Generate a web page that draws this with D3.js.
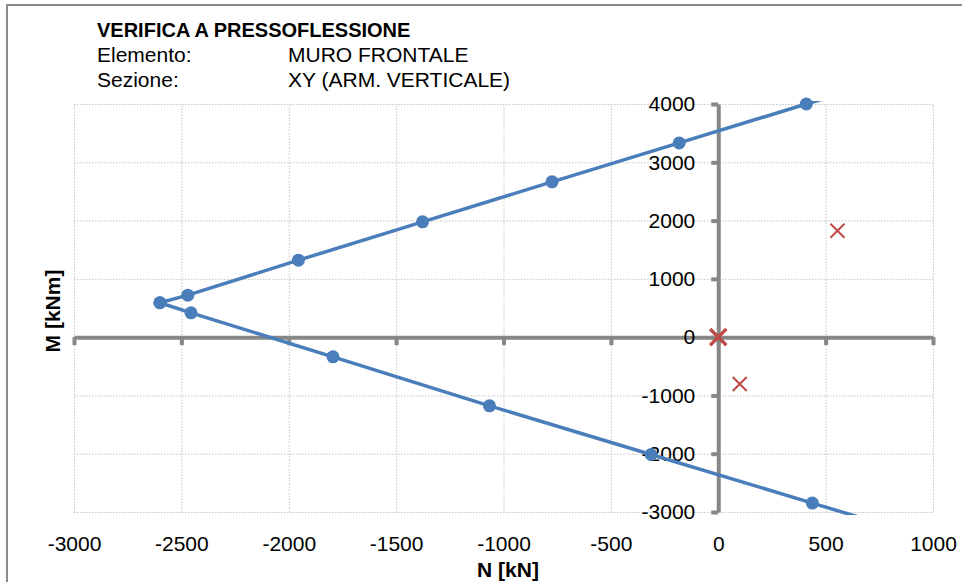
<!DOCTYPE html>
<html>
<head>
<meta charset="utf-8">
<script src="https://cdn.jsdelivr.net/npm/d3@7"></script>
<style>
  body { margin: 0; background: #fff; }
  svg text { font-family: "Liberation Sans", Arial, sans-serif; }
</style>
</head>
<body>
<div id="chart"></div>
<script>
// dominio di interazione N-M (curva blu)
var upperN = [-2600, -2470, -1955, -1377, -774, -182, 410, 1000];
var upperM = [590, 720, 1320, 1978, 2664, 3333, 4000, 4665];
var lowerN = [-2600, -2455, -1794, -1065, -313, 438, 1190];
var lowerM = [590, 417, -338, -1178, -2013, -2847, -3680];

// sollecitazioni di verifica (croci rosse)
var verN = [0, 0, 100, 555];
var verM = [0, 0, -805, 1825];

var xTicks = [-3000, -2500, -2000, -1500, -1000, -500, 0, 500, 1000];
var yTicks = [-3000, -2000, -1000, 0, 1000, 2000, 3000, 4000];

var W = 962, H = 582;
var margin = {top: 104, right: 29, bottom: 70, left: 74},
    width = W - margin.left - margin.right,
    height = H - margin.top - margin.bottom;

// numeri senza separatore e con trattino semplice
var fmt = function(d) { return String(d); };

var svg = d3.select("#chart").append("svg")
    .attr("width", W)
    .attr("height", H);

// bordo esterno
svg.append("rect")
  .attr("x", 7).attr("y", 5)
  .attr("width", 1000).attr("height", 1000)
  .attr("fill", "none")
  .attr("stroke", "#8c8c8c")
  .attr("stroke-width", 2);

var x = d3.scaleLinear().domain([-3000, 1000]).range([margin.left, margin.left + width]);
var y = d3.scaleLinear().domain([-3000, 4000]).range([margin.top + height, margin.top]);

// griglia
svg.append("g")
  .attr("transform", "translate(0," + (margin.top + height) + ")")
  .call(d3.axisBottom(x).tickValues(xTicks).tickSize(-height).tickFormat(""))
  .call(function(g) { g.select(".domain").remove(); })
  .selectAll("line")
    .attr("stroke", "#c4c4c4")
    .attr("stroke-dasharray", "1.5,1.5");
svg.append("g")
  .attr("transform", "translate(" + margin.left + ",0)")
  .call(d3.axisLeft(y).tickValues(yTicks).tickSize(-width).tickFormat(""))
  .call(function(g) { g.select(".domain").remove(); })
  .selectAll("line")
    .attr("stroke", "#c4c4c4")
    .attr("stroke-dasharray", "1.5,1.5");

// asse N (passa per M = 0)
var xAxis = svg.append("g")
  .attr("transform", "translate(0," + y(0) + ")")
  .call(d3.axisBottom(x).tickValues(xTicks).tickSize(8).tickSizeOuter(0).tickFormat(""));
xAxis.select(".domain").attr("stroke", "#878787").attr("stroke-width", 4);
xAxis.selectAll(".tick line").attr("stroke", "#878787").attr("stroke-width", 4);

// etichette N in basso
svg.append("g")
  .attr("transform", "translate(0," + (margin.top + height) + ")")
  .call(d3.axisBottom(x).tickValues(xTicks).tickSize(0).tickPadding(24).tickFormat(fmt))
  .call(function(g) { g.select(".domain").remove(); })
  .selectAll("text")
    .attr("fill", "#000")
    .style("font-size", "21px");

// asse M (passa per N = 0)
var yAxis = svg.append("g")
  .attr("transform", "translate(" + x(0) + ",0)")
  .call(d3.axisLeft(y).tickValues(yTicks).tickSize(7).tickSizeOuter(0).tickPadding(16).tickFormat(fmt));
yAxis.select(".domain").attr("stroke", "#878787").attr("stroke-width", 4);
yAxis.selectAll(".tick line").attr("stroke", "#878787").attr("stroke-width", 4);
yAxis.selectAll("text").attr("fill", "#000").style("font-size", "21px");

// curve
svg.append("clipPath").attr("id", "clip")
  .append("rect")
  .attr("x", margin.left - 3).attr("y", margin.top - 3)
  .attr("width", width + 6).attr("height", height + 6);

var line = d3.line()
  .x(function(d) { return x(d[0]); })
  .y(function(d) { return y(d[1]); });

var upper = d3.zip(upperN, upperM);
var lower = d3.zip(lowerN, lowerM);

[upper, lower].forEach(function(s) {
  svg.append("path")
    .datum(s)
    .attr("clip-path", "url(#clip)")
    .attr("fill", "none")
    .attr("stroke", "#4a7ebb")
    .attr("stroke-width", 3.5)
    .attr("d", line);

  svg.selectAll(null)
    .data(s.filter(function(d) { return d[0] <= 1000 && d[1] <= 4000 && d[1] >= -3000; }))
    .enter()
    .append("circle")
      .attr("cx", function(d) { return x(d[0]); })
      .attr("cy", function(d) { return y(d[1]); })
      .attr("r", 6.5)
      .attr("fill", "#4a7ebb");
});

// croci
var ver = d3.zip(verN, verM);
svg.selectAll(null)
  .data(ver)
  .enter()
  .append("path")
    .attr("transform", function(d) { return "translate(" + x(d[0]) + "," + y(d[1]) + ")"; })
    .attr("d", function(d) { var s = (d[0] === 0 && d[1] === 0) ? 8 : 7; return "M" + (-s) + "," + (-s) + "L" + s + "," + s + "M" + (-s) + "," + s + "L" + s + "," + (-s); })
    .attr("stroke", "#be4b48")
    .attr("stroke-width", function(d) { return (d[0] === 0 && d[1] === 0) ? 3 : 2; })
    .attr("fill", "none");

// titoli assi
svg.append("text")
  .attr("x", 508).attr("y", 577)
  .attr("text-anchor", "middle")
  .style("font-size", "21px").style("font-weight", "bold")
  .text("N [kN]");
svg.append("text")
  .attr("transform", "translate(60,311)rotate(-90)")
  .attr("text-anchor", "middle")
  .style("font-size", "21px").style("font-weight", "bold")
  .text("M [kNm]");

// intestazione
svg.append("text")
  .attr("x", 97).attr("y", 37)
  .style("font-size", "20px").style("font-weight", "bold")
  .text("VERIFICA A PRESSOFLESSIONE");
svg.append("text").attr("x", 97).attr("y", 62).style("font-size", "21px").text("Elemento:");
svg.append("text").attr("x", 288).attr("y", 62).style("font-size", "21px").text("MURO FRONTALE");
svg.append("text").attr("x", 97).attr("y", 87).style("font-size", "21px").text("Sezione:");
svg.append("text").attr("x", 288).attr("y", 87).style("font-size", "21px").text("XY (ARM. VERTICALE)");
</script>
</body>
</html>
